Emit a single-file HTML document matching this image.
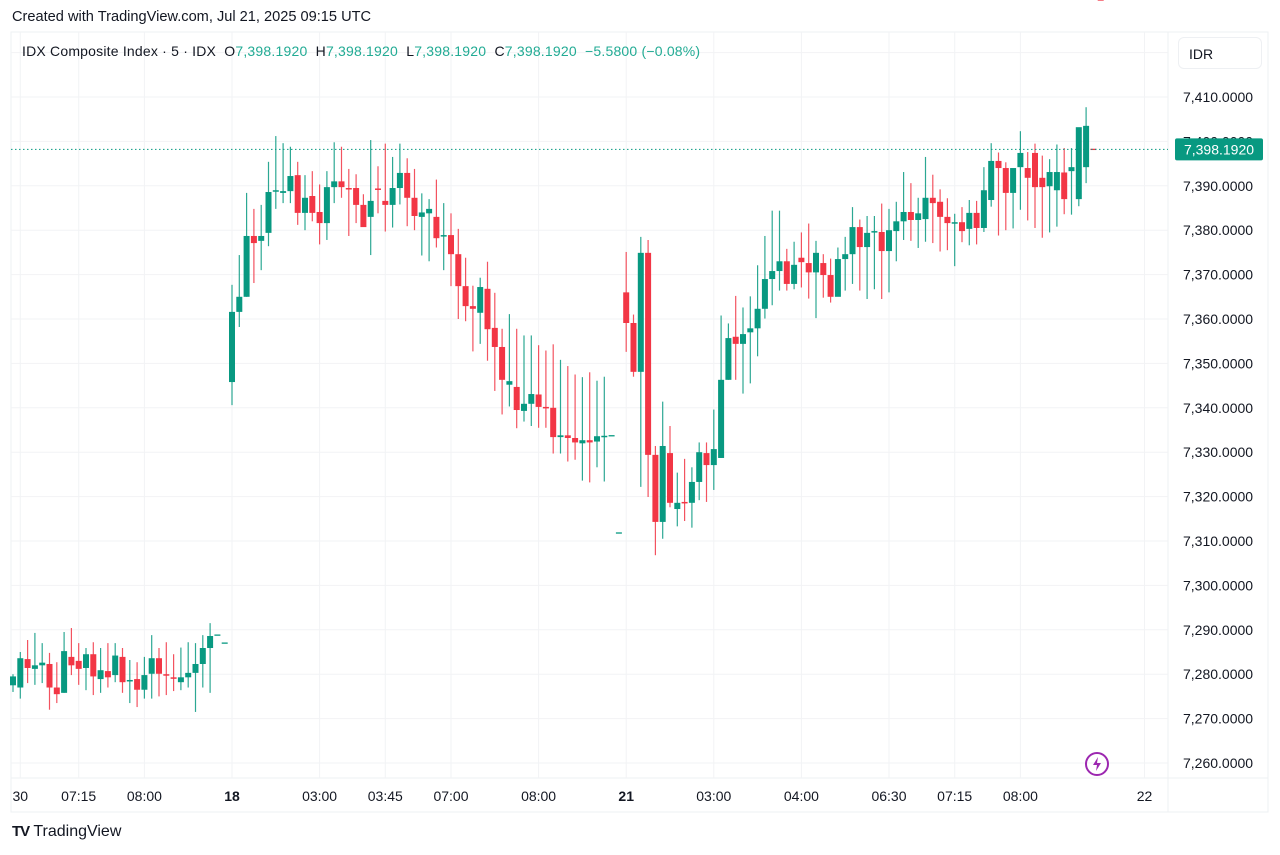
<!DOCTYPE html>
<html><head><meta charset="utf-8"><style>
body{margin:0;width:1280px;height:855px;background:#fff;font-family:"Liberation Sans",sans-serif;overflow:hidden;position:relative}
.t{position:absolute;white-space:nowrap}
</style></head><body>
<div class="t" style="left:12px;top:9px;font-size:14.6px;color:#131722">Created with TradingView.com, Jul 21, 2025 09:15 UTC</div>
<svg id="c" width="1280" height="855" style="position:absolute;left:0;top:0"></svg>
<div class="t" style="left:22px;top:43px;font-size:14px;letter-spacing:0.2px;color:#131722">IDX Composite Index · 5 · IDX&nbsp; O<span style="color:#22ab94">7,398.1920</span>&nbsp; H<span style="color:#22ab94">7,398.1920</span>&nbsp; L<span style="color:#22ab94">7,398.1920</span>&nbsp; C<span style="color:#22ab94">7,398.1920&nbsp; −5.5800 (−0.08%)</span></div>
<div class="t" style="left:1178px;top:37px;width:84px;height:32px;border:1px solid #eef0f3;border-radius:6px;font-size:14px;line-height:32px;padding-left:10px;box-sizing:border-box;color:#131722">IDR</div>
<div class="t" style="left:12px;top:823px;font-size:16px;color:#131722"><b style="font-size:15px;letter-spacing:-1px">TV</b> TradingView</div>
<svg class="t" style="left:1084px;top:751px" width="26" height="26" viewBox="0 0 26 26"><circle cx="13" cy="13" r="11" fill="none" stroke="#9c27b0" stroke-width="2"/><path d="M14 6 L9 14 L13 14 L12 20 L17 12 L13 12 Z" fill="#9c27b0"/></svg>
<script>
const opens=[7277.5,7277,7283.4,7281.2,7282,7282.3,7277,7275.8,7283.9,7283,7281.4,7284.5,7278.9,7280.7,7279.8,7283.9,7278.5,7278.9,7276.5,7280.1,7283.6,7280,7279.3,7278.2,7279.3,7280.3,7282.3,7285.9,7288.8,7287,
7345.8,7361.6,7365,7378.7,7377.6,7379.4,7388.8,7388.4,7388.8,7392.4,7383.9,7387.7,7384.1,7381.6,7389.7,7391,7389.5,7389.5,7385.7,7383,7389.4,7386.6,7385.7,7389.5,7392.9,7387.3,7383,7383.8,7383,7378.7,7378.9,7374.6,7367.4,7362.9,7361.4,7366.8,7358,7353.7,7345.2,7344.7,7339.3,7340.9,7343,7340.2,7340,7333.4,7333.8,7333.2,7332,7332.7,7332.4,7333.6,7333.7,
7311.8,7366,7359.1,7348.1,7374.9,7329.4,7314.3,7329.8,7317.2,7318.8,7318.6,7323.3,7329.8,7327.1,7328.7,7346.3,7356,7354.4,7357,7357.9,7362.3,7369,7370.8,7373,7367.9,7373.8,7372.6,7370.5,7372.6,7369.9,7365,7373.5,7374.6,7380.7,7376.2,7379.6,7379.6,7375.3,7379.8,7382,7384.1,7382.3,7382.5,7387.3,7386.4,7383,7381.6,7381.8,7380.3,7383.9,7380.5,7386.8,7395.6,7394,7388.4,7394.2,7394,7397.4,7391.8,7389.9,7389,7393,7393.3,7387,7394.2,7403.5,7398.2];
const closes=[7279.5,7283.6,7281.4,7282,7282.6,7277,7275.5,7285.2,7282,7281.2,7284.5,7279.5,7280.9,7279.3,7284.2,7278.2,7278.7,7276.5,7279.8,7283.6,7280.1,7279.8,7279.1,7279.3,7280.3,7282.3,7285.9,7288.6,7288.8,7287,
7361.6,7365,7378.7,7377.1,7378.7,7388.6,7389,7388.8,7392.2,7383.9,7387.3,7383.9,7381.6,7389.7,7391,7389.7,7389.3,7385.7,7380.7,7386.6,7389.2,7385.7,7389.5,7392.9,7387.3,7383.2,7384,7384.8,7378.2,7378.9,7374.6,7367.4,7362.9,7362.3,7367.2,7357.7,7353.7,7346.3,7346,7339.5,7340.9,7343.1,7340.2,7339.9,7333.4,7333.8,7333.2,7332.2,7332.7,7332.2,7333.6,7333.7,7333.7,
7311.8,7359.1,7348.1,7374.9,7329.4,7314.3,7331.4,7318.6,7318.6,7318.5,7323.3,7330,7327.1,7330.7,7346.3,7355.7,7354.4,7356.6,7357.9,7362.3,7369,7370.8,7373,7367.9,7372.2,7372.8,7370.5,7374.9,7369.9,7365,7373.5,7374.6,7380.7,7376.2,7379.4,7379.8,7375.3,7380,7382,7384.1,7382.3,7383.8,7387.3,7386.1,7383,7381.6,7381.8,7379.8,7383.9,7380.5,7389,7395.6,7394,7388.4,7394,7397.4,7391.8,7389.7,7389.7,7393.1,7393.1,7387,7394.2,7403.2,7403.5,7398.2];
const highs=[7280,7285,7287.7,7289.3,7287,7284.8,7282.7,7289.5,7290.4,7287,7285.9,7287.2,7285.9,7287,7287,7285.9,7283.2,7282.7,7283.9,7288.8,7285.9,7287.2,7284.5,7286,7287.2,7287,7288.8,7291.5,7288.8,7287,
7367.7,7374.4,7388.4,7384.8,7385.7,7395.4,7401.2,7399.6,7398.8,7395.4,7392.4,7393.3,7390.3,7393.3,7399.8,7398.8,7393.8,7392.6,7388.1,7400.3,7394.4,7399.5,7396.5,7399.5,7396.2,7393.8,7388.3,7387,7391.4,7386.1,7383.8,7380.3,7373.8,7367.5,7369.3,7372.9,7365.9,7357.8,7361.1,7357.8,7356.3,7356.3,7354.1,7352.9,7354.3,7350.8,7349.4,7347.5,7346.9,7348,7346.1,7347,7333.7,
7311.8,7375.1,7361,7378.5,7377.8,7331.4,7341.4,7335.9,7325.4,7328.5,7326.6,7332.2,7332.2,7339.6,7360.8,7359,7365.2,7362.6,7365.1,7372.1,7378.7,7384.4,7384.4,7375.8,7377.4,7379.5,7381.5,7377.6,7374.6,7373.6,7376.1,7378.5,7385.2,7382.4,7383.2,7383.2,7386,7384.8,7386.4,7393.1,7390.6,7387.3,7396.5,7392.5,7389.2,7387.2,7383.7,7385.2,7386.8,7386.6,7394.2,7399.6,7397.5,7395.3,7393.9,7402.3,7397.6,7399.5,7396.8,7396,7399.3,7398.5,7398.5,7398.5,7407.7,7403.5,7398.2];
const lows=[7276,7274.5,7278,7277.6,7278,7272,7273.5,7275.8,7279.8,7277.6,7276.4,7275.3,7275.8,7277,7278.2,7275.8,7273.5,7272.6,7274.5,7274.5,7275,7275.3,7276.2,7276.4,7277,7271.5,7277,7275.8,7288.8,7287,
7340.6,7358.2,7365,7368.1,7371,7376.4,7384.8,7386.1,7386.1,7381.2,7380,7382,7376.8,7377.8,7386.1,7387.3,7378.7,7381.6,7380.9,7374.4,7383.8,7379.7,7380.6,7385.8,7380.9,7380,7374.3,7373,7376.1,7371,7367.4,7360,7359.5,7352.7,7354.4,7350.6,7343.8,7338.5,7340.3,7335.4,7336.9,7335.9,7335.5,7335.5,7329.7,7329.7,7327.9,7328.3,7323.6,7323.2,7326.6,7323.4,7333.7,
7311.8,7352.6,7347,7322.2,7319.9,7306.8,7310.5,7317.6,7313.3,7314.5,7313,7319.2,7318.8,7321.5,7328.7,7346.3,7346.3,7343.2,7345.5,7351.6,7360.1,7363.1,7366.4,7366.4,7366.7,7367.1,7364.6,7360.2,7364.8,7363.7,7366,7366.4,7367.9,7366.4,7364.5,7366.7,7364.5,7366,7373,7377.8,7377.6,7376,7377.4,7377.1,7375.2,7375.5,7371.9,7377.3,7376.6,7376.8,7379.6,7385.3,7378.8,7380,7380.4,7384.6,7382.2,7380.5,7378.3,7379.5,7380.8,7383.6,7383.5,7385.4,7390.6,7403.5,7398.2];
const priceTicks=[7420,7410,7400,7390,7380,7370,7360,7350,7340,7330,7320,7310,7300,7290,7280,7270,7260];
const timeLabels=["30","07:15","08:00","18","03:00","03:45","07:00","08:00","21","03:00","04:00","06:30","07:15","08:00","22"];
const timeIdx=[1,9,18,30,42,51,60,72,84,96,108,120,129,138,155];
const lastPrice=7398.192;
const svg=document.getElementById('c');const NS='http://www.w3.org/2000/svg';
function yS(v){return 97+(7410-v)*4.44;}
function xS(i){return 13+i*7.3;}
function el(t,a,p){const e=document.createElementNS(NS,t);for(const k in a)e.setAttribute(k,a[k]);(p||svg).appendChild(e);return e;}
el('rect',{x:11,y:32,width:1257,height:780,fill:'none',stroke:'#eef0f3'});
el('line',{x1:1168,y1:32,x2:1168,y2:812,stroke:'#eef0f3'});
el('line',{x1:11,y1:778,x2:1268,y2:778,stroke:'#eef0f3'});
priceTicks.forEach(v=>{const y=yS(v);
const g=el('line',{x1:11,y1:y,x2:1168,y2:y,stroke:'#f2f3f5'});

if(v<7420){const t=el('text',{x:1183,y:y+5,'font-size':14,fill:'#131722','font-family':'Liberation Sans, sans-serif'});t.textContent=v.toLocaleString('en-US',{minimumFractionDigits:4});
}
});
timeLabels.forEach((s,k)=>{const x=xS(timeIdx[k]);
const g=el('line',{x1:x,y1:32,x2:x,y2:778,stroke:'#f2f3f5'});
const t=el('text',{x:x,y:801,'font-size':14,fill:'#131722','text-anchor':'middle','font-weight':(s==='18'||s==='21')?'bold':'normal'});t.textContent=s;
});
opens.forEach((o,i)=>{const c=closes[i],h=highs[i],l=lows[i],x=xS(i);const up=c>=o;const col=up?'#089981':'#f23645';
const g=el('g',{});
if(h===l){el('line',{x1:x-3,x2:x+3,y1:yS(c),y2:yS(c),stroke:col,'stroke-width':1.3},g);return;}
el('line',{x1:x,x2:x,y1:yS(h),y2:yS(l),stroke:col,'stroke-width':1.2,opacity:.85},g);
const top=yS(Math.max(o,c)),bh=Math.max(1.5,Math.abs(yS(o)-yS(c)));
el('rect',{x:x-3,y:top,width:6,height:bh,fill:col},g);});
const ly=yS(lastPrice);
const pl=el('line',{x1:11,y1:ly,x2:1168,y2:ly,stroke:'#089981','stroke-dasharray':'1.5 2.5','stroke-width':1});
const lb=el('rect',{x:1175,y:ly-11,width:88,height:22,rx:2,fill:'#089981'});
const lt=el('text',{x:1219,y:ly+5,'font-size':14,fill:'#fff','text-anchor':'middle'});lt.textContent=lastPrice.toLocaleString('en-US',{minimumFractionDigits:4});

</script>
</body></html>
